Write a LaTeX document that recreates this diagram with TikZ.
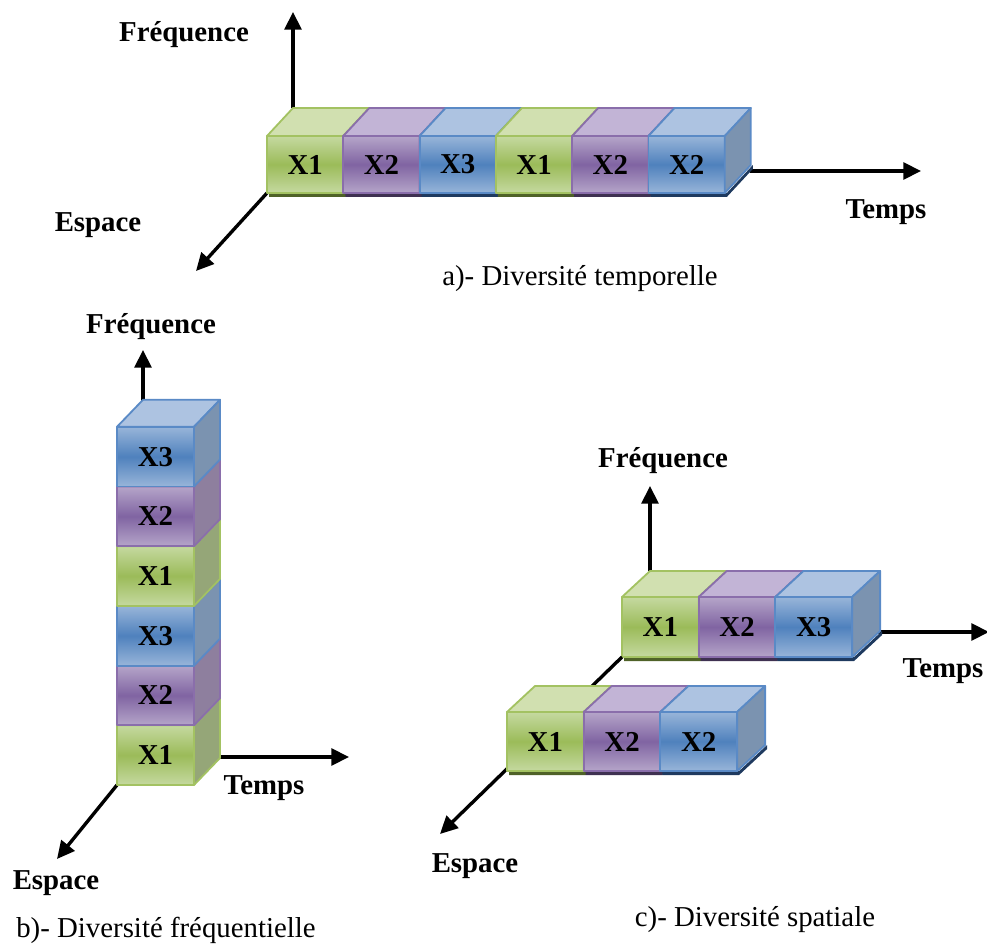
\documentclass[tikz,border=0pt]{standalone}
\usepackage{fontspec}
\setmainfont{Liberation Serif}
\usepackage{tikz}
\usetikzlibrary{arrows.meta}

% block colours
\definecolor{green}{HTML}{9BBB59}
\definecolor{greenlight}{HTML}{C5D9A0}
\definecolor{greentop}{HTML}{D1E0B0}
\definecolor{greenside}{HTML}{95A678}
\definecolor{greenedge}{HTML}{A3C262}
\definecolor{greendark}{HTML}{4F6228}
\definecolor{purple}{HTML}{8064A2}
\definecolor{purplelight}{HTML}{B5A5C9}
\definecolor{purpletop}{HTML}{C2B4D6}
\definecolor{purpleside}{HTML}{8E7F9E}
\definecolor{purpleedge}{HTML}{8A6EAB}
\definecolor{purpledark}{HTML}{3F3151}
\definecolor{blue}{HTML}{4F81BD}
\definecolor{bluelight}{HTML}{98B5D9}
\definecolor{bluetop}{HTML}{ADC3E1}
\definecolor{blueside}{HTML}{7B93B0}
\definecolor{blueedge}{HTML}{5A8AC6}
\definecolor{bluedark}{HTML}{1F3A5F}

% size of the blocks, set again for every diagram
\def\cw{76}\def\ch{58}\def\cdx{26}\def\cdy{28}

% one block: x, y of the front top-left corner, colour, text, name
\newcommand{\cube}[5]{%
  \fill[top color=#3light, bottom color=#3light, middle color=#3] (#1,#2) rectangle ++(\cw,\ch);
  \draw[#3edge, edge] (#1,#2) rectangle ++(\cw,\ch);
  \filldraw[fill=#3top, draw=#3edge, edge] (#1,#2) -- ++(\cdx,-\cdy) -- ++(\cw,0) -- ++(-\cdx,\cdy) -- cycle;
  \filldraw[fill=#3side, draw=#3edge, edge] (#1+\cw,#2) -- ++(\cdx,-\cdy) -- ++(0,\ch) -- ++(-\cdx,\cdy) -- cycle;
  \node[blocktext] (#5) at (#1+\cw/2,#2+\ch/2) {#4};
}
% dark strip under a block lying on the floor
\newcommand{\cubeshadow}[3]{%
  \fill[#3dark] (#1+2,#2+\ch) -- ++(\cw,0) -- ++(\cdx,-\cdy) -- ++(0,4) -- ++(-\cdx,\cdy) -- ++(-\cw,0) -- cycle;
}

\begin{document}
\begin{tikzpicture}[
    x=0.025cm, y=-0.025cm,
    font=\fontsize{20.5}{24}\selectfont,
    edge/.style={line width=1.3pt, line join=round},
    blocktext/.style={font=\fontsize{20.5}{24}\selectfont\bfseries},
    axislabel/.style={font=\fontsize{20.5}{24}\selectfont\bfseries},
    caption/.style={font=\fontsize{20.5}{24}\selectfont},
    axis/.style={line width=2.4pt, -{Triangle[length=0.44cm,width=0.42cm]}}
  ]
  \useasboundingbox (0,0) rectangle (987,944);

  % ---- a) temporelle
  \def\cw{76.3}\def\ch{57}\def\cdx{26}\def\cdy{28}
  \coordinate (a0) at (267,193);
  \coordinate (aesp) at (196,271);
  \coordinate (afreq0) at (293,108);
  \coordinate (afreq) at (293,12);
  \coordinate (atemps0) at (750,171);
  \coordinate (atemps) at (921,171);
  \draw[axis] (afreq0) -- (afreq);
  \draw[axis] (atemps0) -- (atemps);
  \draw[axis] (a0) -- (aesp);
  \foreach \i/\col in {0/green,1/purple,2/blue,3/green,4/purple,5/blue}
    \cubeshadow{267+\i*\cw}{136}{\col};
  \cube{267}{136}{green}{X1}{a1}
  \cube{343.3}{136}{purple}{X2}{a2}
  \cube{419.6}{136}{blue}{X3}{a3}
  \cube{495.9}{136}{green}{X1}{a4}
  \cube{572.2}{136}{purple}{X2}{a5}
  \cube{648.5}{136}{blue}{X2}{a6}
  \node[axislabel] (afreqlab) at (184,35) {Fréquence};
  \node[axislabel] (aesplab) at (98,225) {Espace};
  \node[axislabel] (atempslab) at (886,212) {Temps};
  \node[caption] (acap) at (580,279) {a)- Diversité temporelle};

  % ---- b) fréquentielle
  \def\cw{77}\def\ch{59.7}\def\cdx{26}\def\cdy{27}
  \coordinate (b0) at (117,785);
  \coordinate (besp) at (57,859);
  \coordinate (bfreq0) at (143,405);
  \coordinate (bfreq) at (143,350);
  \coordinate (btemps0) at (218,757);
  \coordinate (btemps) at (349,757);
  \draw[axis] (bfreq0) -- (bfreq);
  \draw[axis] (btemps0) -- (btemps);
  \draw[axis] (b0) -- (besp);
  \cube{117}{725.3}{green}{X1}{b1}
  \cube{117}{665.6}{purple}{X2}{b2}
  \cube{117}{605.9}{blue}{X3}{b3}
  \cube{117}{546.2}{green}{X1}{b4}
  \cube{117}{486.5}{purple}{X2}{b5}
  \cube{117}{426.8}{blue}{X3}{b6}
  \node[axislabel] (bfreqlab) at (151,327) {Fréquence};
  \node[axislabel] (btempslab) at (264,788) {Temps};
  \node[axislabel] (besplab) at (56,883) {Espace};
  \node[caption] (bcap) at (166,930) {b)- Diversité fréquentielle};

  % ---- c) spatiale
  \def\cw{76.7}\def\ch{60}\def\cdx{28}\def\cdy{26}
  \coordinate (c0) at (622,657);
  \coordinate (cesp) at (440,834);
  \coordinate (cfreq0) at (650,571);
  \coordinate (cfreq) at (650,486);
  \coordinate (ctemps0) at (877,632);
  \coordinate (ctemps) at (989,632);
  \draw[axis] (cfreq0) -- (cfreq);
  \draw[axis] (ctemps0) -- (ctemps);
  \foreach \i/\col in {0/green,1/purple,2/blue}
    \cubeshadow{622+\i*\cw}{597}{\col};
  \cube{622}{597}{green}{X1}{c1}
  \cube{698.7}{597}{purple}{X2}{c2}
  \cube{775.4}{597}{blue}{X3}{c3}
  \draw[axis] (c0) -- (cesp);
  \def\ch{59}
  \foreach \i/\col in {0/green,1/purple,2/blue}
    \cubeshadow{507+\i*\cw}{712}{\col};
  \cube{507}{712}{green}{X1}{c4}
  \cube{583.7}{712}{purple}{X2}{c5}
  \cube{660.4}{712}{blue}{X2}{c6}
  \node[axislabel] (cfreqlab) at (663,461) {Fréquence};
  \node[axislabel] (ctempslab) at (943,671) {Temps};
  \node[axislabel] (cesplab) at (475,866) {Espace};
  \node[caption] (ccap) at (755,920) {c)- Diversité spatiale};
\end{tikzpicture}
\end{document}
